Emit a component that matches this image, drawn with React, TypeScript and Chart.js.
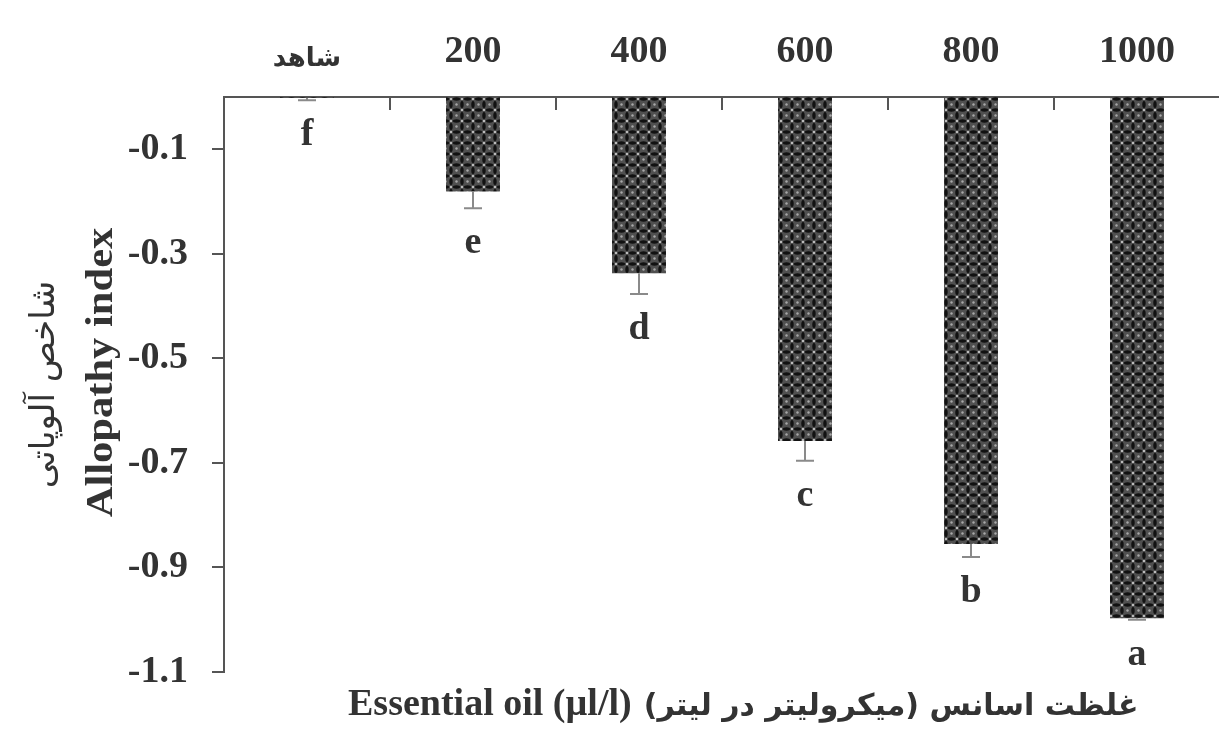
import React, { useEffect, useRef } from 'react';
import { Chart, registerables } from 'chart.js';

Chart.register(...registerables);

// ---- data ----
const categories = ['شاهد', '200', '400', '600', '800', '1000'];
const allelopathyIndex = [-0.002, -0.181, -0.337, -0.658, -0.855, -0.997];
const standardError = [0.004, 0.032, 0.04, 0.038, 0.025, 0.003];
const significanceLetters = ['f', 'e', 'd', 'c', 'b', 'a'];
const yTickValues = [-0.1, -0.3, -0.5, -0.7, -0.9, -1.1];
const yTickLabels = ['-0.1', '-0.3', '-0.5', '-0.7', '-0.9', '-1.1'];

const yTitleFa = 'شاخص آلوپاتی';
const yTitleEn = 'Allopathy index';
const xTitleEn = 'Essential oil (µl/l)';
const xTitleFa = 'غلظت اسانس (میکرولیتر در لیتر)';

const SERIF = '"Liberation Serif", "Times New Roman", serif';
const TEXT = '#333';
const AXIS = '#555';

function makeTile(): HTMLCanvasElement {
  const c = document.createElement('canvas');
  c.width = 11;
  c.height = 11;
  const g = c.getContext('2d');
  if (!g) return c;
  g.fillStyle = '#505050';
  g.fillRect(0, 0, 11, 11);
  g.fillStyle = '#111';
  const ell = (x: number, y: number, rx: number, ry: number) => {
    g.beginPath();
    g.ellipse(x, y, rx, ry, 0, 0, Math.PI * 2);
    g.fill();
  };
  ell(5.5, 0, 3.6, 1.7);
  ell(5.5, 11, 3.6, 1.7);
  ell(0, 5.5, 1.7, 3.6);
  ell(11, 5.5, 1.7, 3.6);
  g.fillStyle = '#e0e0e0';
  [[0, 0], [11, 0], [0, 11], [11, 11]].forEach(([x, y]) => ell(x, y, 1.0, 1.0));
  g.fillStyle = '#a8a8a8';
  ell(5.5, 5.5, 1.2, 1.2);
  return c;
}

const annotationPlugin = {
  id: 'annotations',
  afterDatasetsDraw(chart: any) {
    const ctx = chart.ctx as CanvasRenderingContext2D;
    const xs = chart.scales.x;
    const ys = chart.scales.y;
    const area = chart.chartArea;
    const meta = chart.getDatasetMeta(0);
    ctx.save();
    meta.data.forEach((bar: any, i: number) => {
      const cx = bar.x;
      const y0 = ys.getPixelForValue(allelopathyIndex[i]);
      const y1 = ys.getPixelForValue(allelopathyIndex[i] - standardError[i]);
      ctx.strokeStyle = '#8a8a8a';
      ctx.lineWidth = 2;
      ctx.beginPath();
      ctx.moveTo(cx, y0);
      ctx.lineTo(cx, y1);
      ctx.moveTo(cx - 9, y1);
      ctx.lineTo(cx + 9, y1);
      ctx.stroke();
      ctx.fillStyle = TEXT;
      ctx.font = `bold 38px ${SERIF}`;
      ctx.textAlign = 'center';
      ctx.textBaseline = 'alphabetic';
      ctx.fillText(significanceLetters[i], cx, y1 + 45);
    });
    // inward tick marks between categories on the top axis
    ctx.strokeStyle = AXIS;
    ctx.lineWidth = 2;
    for (let i = 0; i < categories.length - 1; i++) {
      const bx = (xs.getPixelForValue(i) + xs.getPixelForValue(i + 1)) / 2;
      ctx.beginPath();
      ctx.moveTo(bx, area.top);
      ctx.lineTo(bx, area.top + 13);
      ctx.stroke();
    }
    ctx.restore();
  },
  afterDraw(chart: any) {
    const ctx = chart.ctx as CanvasRenderingContext2D;
    const area = chart.chartArea;
    ctx.save();
    ctx.fillStyle = TEXT;
    // y titles (rotated)
    const cy = (area.top + area.bottom) / 2;
    ctx.save();
    ctx.translate(112, cy - 12);
    ctx.rotate(-Math.PI / 2);
    ctx.scale(1.12, 1);
    ctx.font = `bold 38px ${SERIF}`;
    ctx.textAlign = 'center';
    ctx.textBaseline = 'alphabetic';
    ctx.fillText(yTitleEn, 0, 0);
    ctx.restore();

    ctx.save();
    ctx.translate(54, cy);
    ctx.rotate(-Math.PI / 2);
    ctx.font = `34px "DejaVu Sans", sans-serif`;
    ctx.textAlign = 'center';
    ctx.textBaseline = 'alphabetic';
    (ctx as any).direction = 'rtl';
    ctx.fillText(yTitleFa, 0, 0);
    ctx.restore();

    // x title
    ctx.font = `bold 38px ${SERIF}`;
    ctx.textAlign = 'left';
    ctx.textBaseline = 'alphabetic';
    (ctx as any).direction = 'ltr';
    const startX = area.left + 124;
    ctx.fillText(xTitleEn, startX, 715);
    const w = ctx.measureText(xTitleEn).width;
    ctx.font = `bold 30px "DejaVu Sans", sans-serif`;
    (ctx as any).direction = 'rtl';
    ctx.textAlign = 'left';
    ctx.fillText(xTitleFa, startX + w + 12, 715);
    ctx.restore();
  },
};

export default function App() {
  const canvasRef = useRef<HTMLCanvasElement | null>(null);

  useEffect(() => {
    const canvas = canvasRef.current;
    if (!canvas) return;
    const ctx2d = canvas.getContext('2d');
    const pattern = ctx2d ? ctx2d.createPattern(makeTile(), 'repeat') : null;

    const chart = new Chart(canvas, {
      type: 'bar',
      data: {
        labels: categories,
        datasets: [
          {
            data: allelopathyIndex,
            backgroundColor: (pattern as any) || '#3a3a3a',
            borderWidth: 0,
            barPercentage: 0.325,
            categoryPercentage: 1,
          },
        ],
      },
      options: {
        responsive: false,
        animation: false,
        devicePixelRatio: 1,
        layout: { padding: { left: 0, right: 6, top: 0, bottom: 60 } },
        plugins: {
          legend: { display: false },
          tooltip: { enabled: false },
          title: { display: false },
        },
        scales: {
          x: {
            type: 'category',
            position: 'top',
            offset: true,
            grid: { display: false },
            border: { display: true, color: AXIS, width: 2 },
            ticks: {
              color: TEXT,
              padding: 14,
              maxRotation: 0,
              autoSkip: false,
              font: (c: any) =>
                c.index === 0
                  ? { family: '"DejaVu Sans", sans-serif', size: 26, weight: 'bold' }
                  : { family: SERIF, size: 38, weight: 'bold' },
            },
            afterFit: (s: any) => {
              s.height = 97;
            },
          },
          y: {
            type: 'linear',
            position: 'left',
            min: -1.1,
            max: 0,
            afterBuildTicks: (s: any) => {
              s.ticks = yTickValues.map((v) => ({ value: v }));
            },
            afterFit: (s: any) => {
              s.width = 224;
            },
            grid: {
              drawOnChartArea: false,
              drawTicks: true,
              tickLength: 12,
              color: AXIS,
              lineWidth: 2,
            },
            border: { display: true, color: AXIS, width: 2 },
            ticks: {
              color: TEXT,
              padding: 24,
              font: { family: SERIF, size: 38, weight: 'bold' },
              callback: (_v: any, i: number) => yTickLabels[i],
            },
          },
        },
      },
      plugins: [annotationPlugin],
    } as any);

    return () => chart.destroy();
  }, []);

  return (
    <div
      style={{
        position: 'absolute',
        left: 0,
        top: 0,
        width: 1219,
        height: 732,
        overflow: 'hidden',
        background: '#fff',
      }}
    >
      <canvas ref={canvasRef} width={1226} height={732} style={{ display: 'block' }} />
    </div>
  );
}
